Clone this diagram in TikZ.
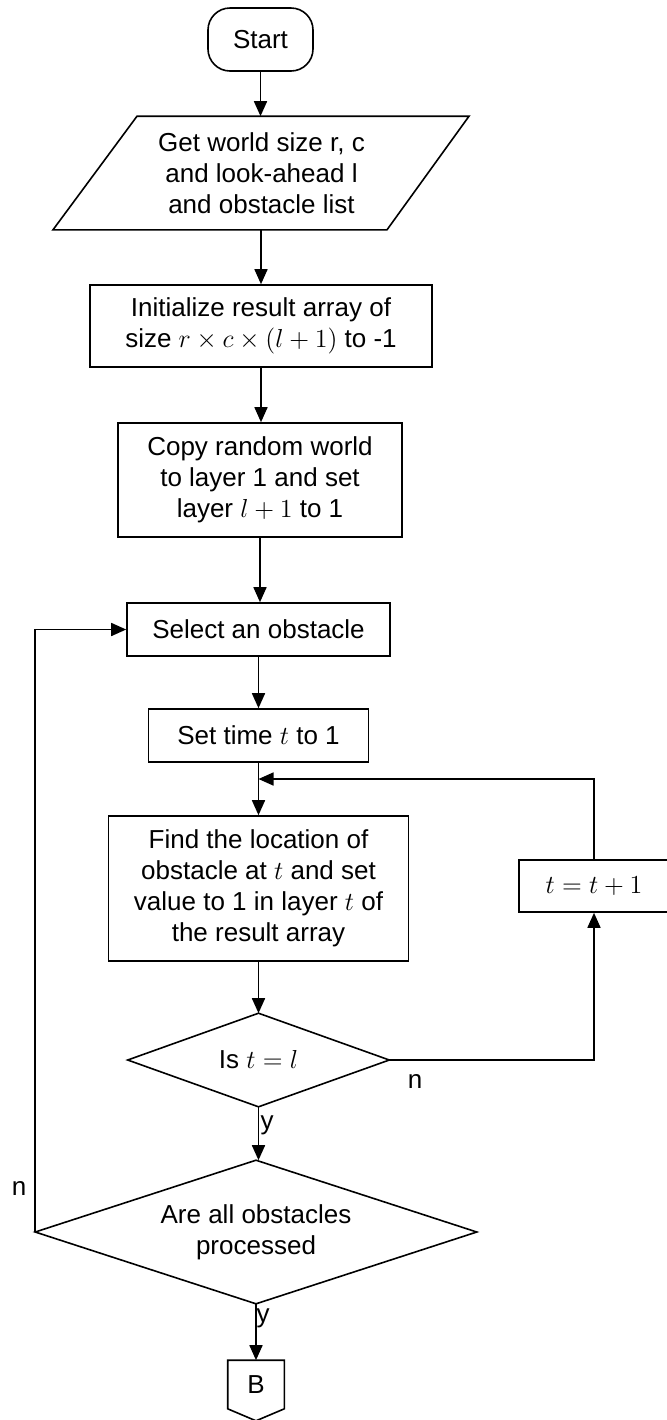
\documentclass[tikz,border=0pt]{standalone}
\IfFileExists{fix-cm.sty}{\usepackage{fix-cm}}{}
\usepackage{fontspec}
\setmainfont{Liberation Sans}
\usetikzlibrary{arrows.meta,calc}
\newcommand{\lbl}{\fontsize{13}{15.5}\selectfont}

\begin{document}
\begin{tikzpicture}[x=0.5pt,y=-0.5pt,
  line width=0.8pt,
  every node/.style={font=\lbl, align=center, inner sep=0pt},
  procbox/.style={draw},
  arr/.style={-{Triangle[length=7.5pt,width=6.5pt]}},
]
\useasboundingbox (0,0) rectangle (667,1420);

% terminator
\node[procbox, rounded corners=11pt, minimum width=52.5pt, minimum height=31.5pt] (start) at (260.5,39.5) {Start};

% input parallelogram
\node[minimum width=120pt, minimum height=56pt] (inp) at (261.5,173)
  {Get world size r, c\\and look-ahead l\\and obstacle list};
\draw ($(inp.north)+(-124.5,0)$) -- ($(inp.north)+(207.5,0)$)
   -- ($(inp.south)+(125.5,0)$) -- ($(inp.south)+(-208.5,0)$) -- cycle;

% process boxes
\node[procbox, minimum width=171pt, minimum height=41pt] (init) at (261,326)
  {Initialize result array of\\size $r\times c\times(l+1)$ to -1};
\node[procbox, minimum width=142pt, minimum height=57pt] (copy) at (260,480)
  {Copy random world\\to layer 1 and set\\layer $l+1$ to 1};
\node[procbox, minimum width=131.5pt, minimum height=26.5pt] (sel) at (258.5,629.5)
  {Select an obstacle};
\node[procbox, minimum width=110pt, minimum height=26.5pt] (set) at (258.5,735.5)
  {Set time $t$ to 1};
\coordinate (jn) at (258.5,779);
\node[procbox, minimum width=150pt, minimum height=72.5pt] (find) at (258.5,888.5)
  {Find the location of\\obstacle at $t$ and set\\value to 1 in layer $t$ of\\the result array};
\node[procbox, minimum width=75pt, minimum height=26pt] (inc) at (594,886) {$t=t+1$};

% decisions
\node[minimum width=130pt, minimum height=46pt] (is) at (258.5,1060) {Is $t=l$};
\draw (is.north) -- (is.east) -- (is.south) -- (is.west) -- cycle;
\node[minimum width=220pt, minimum height=71pt] (are) at (256,1232)
  {Are all obstacles\\processed};
\draw (are.north) -- (are.east) -- (are.south) -- (are.west) -- cycle;

% off-page connector
\node[minimum width=27.5pt, minimum height=23.5pt] (off) at (256,1384.5) {B};
\draw (off.north west) -- (off.north east) -- (off.south east)
   -- ($(off.south)+(0,12)$) -- (off.south west) -- cycle;

% connectors
\draw[arr] (start.south) -- (start.south |- inp.north);
\draw[arr] (init.north |- inp.south) -- (init.north);
\draw[arr] (init.south) -- (init.south |- copy.north);
\draw[arr] (copy.south) -- (copy.south |- sel.north);
\draw[arr] (sel.south) -- (set.north);
\draw (set.south) -- (jn);
\draw[arr] (jn) -- (find.north);
\draw[arr] (inc.north) |- (jn);
\draw[arr] (find.south) -- (is.north);
\draw[arr] (is.east) -| (inc.south);
\draw[arr] (is.south) -- (is.south |- are.north);
\draw[arr] (are.west) |- (sel.west);
\draw[arr] (are.south) -- (are.south |- off.north);

% branch labels
\node (nr) at (415,1081) {n};
\node (y1) at (267,1125) {y};
\node (nl) at (19,1188) {n};
\node (y2) at (263,1318) {y};
\end{tikzpicture}
\end{document}
